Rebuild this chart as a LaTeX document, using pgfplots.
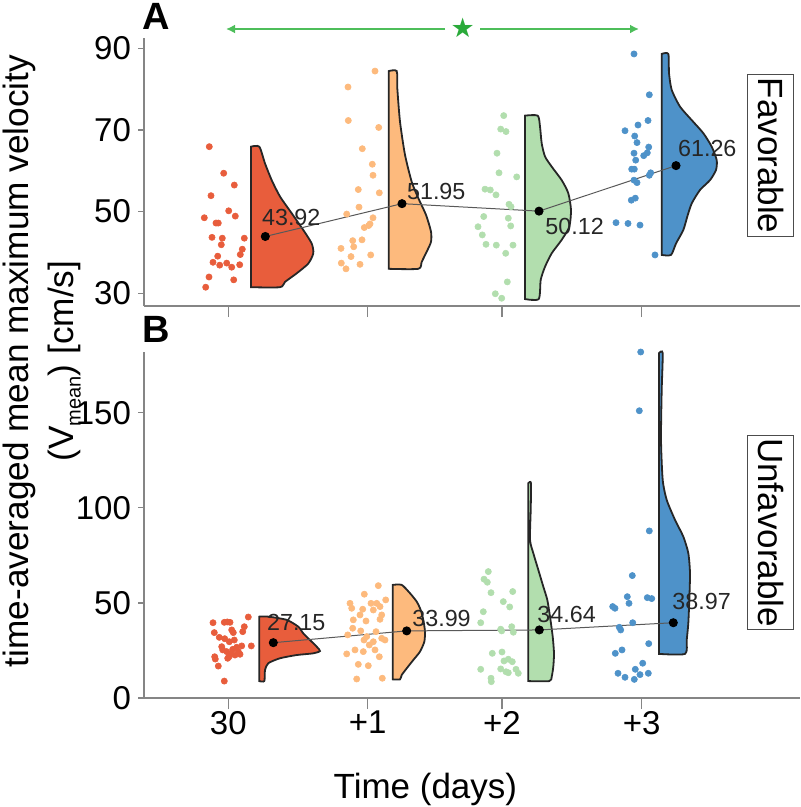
\documentclass[border=0pt]{standalone}
\usepackage{fontspec}
\setmainfont{Liberation Sans}
\newfontfamily\symfont{DejaVu Sans}
\usepackage{pgfplots}
\pgfplotsset{compat=1.18}
\usetikzlibrary{arrows.meta}

\definecolor{cRed}{HTML}{E85D3C}
\definecolor{cOrange}{HTML}{FDBA7D}
\definecolor{cGreen}{HTML}{B2DEAE}
\definecolor{cBlue}{HTML}{4E92C9}
\definecolor{axgray}{HTML}{858585}
\definecolor{arrowgreen}{HTML}{4DBE5A}
\definecolor{stargreen}{HTML}{2AAA3A}

% x runs in picture pixels (144 .. 800), y in cm/s
\pgfplotsset{
  panel/.style={
    scale only axis, width=328pt, xmin=144, xmax=800,
    axis lines*=left, tick align=outside,
    axis line style={draw=axgray, line width=0.6pt},
    tick style={draw=axgray, line width=0.6pt},
    major tick length=3pt,
    x tick style={/pgfplots/major tick length=5.5pt},
    xtick={228.3,367.7,502,641.7},
    ticklabel style={font=\fontsize{16.5}{18}\selectfont},
    /pgf/number format/assume math mode=true,
    clip=false,
  },
  pts/.style={only marks, mark=*, mark size=1.55pt, color=#1,
    mark options={draw=#1, fill=#1, line width=0.3pt, line join=round}},
  vio/.style={fill=#1, draw=black!85, line width=0.9pt, smooth, tension=0.4, mark=none},
  meanline/.style={draw=black!65, line width=0.5pt, mark=*, mark size=2pt,
    mark options={fill=black, draw=black}},
}
\tikzset{vlab/.style={font=\fontsize{11.65}{13}\selectfont, inner sep=0pt, anchor=base west, text=black!85}}

\begin{document}
\begin{tikzpicture}
\path[use as bounding box] (0,0) rectangle (400pt,-403.5pt);

% ---------- panel A: favorable ----------
\begin{axis}[panel, at={(72pt,-153pt)}, anchor=south west, height=134pt,
  ymin=26.9, ymax=92.5, ytick={30,50,70,90}, xticklabels={}]

\addplot[pts=cRed] coordinates {
  (209.3,65.9) (223.7,59.4) (234.3,56.5) (211,53.9) (228.7,50.2) (235.3,48.9)
  (204.3,48.5) (216,47.2) (218.3,47.2) (212,43.7) (222.3,43.5) (244.3,43.5)
  (221.3,41.9) (242.3,40.8) (240.3,39.5) (217.7,39.1) (213,37.6) (219.7,36.9)
  (226.7,37.4) (231.7,36.4) (239.7,37.0) (209,34.0) (233.7,33.3) (205.7,31.5)};
\addplot[pts=cOrange] coordinates {
  (375,84.4) (348,80.5) (348.3,72.3) (378.7,70.6) (362.3,65.4) (372.3,61.6)
  (373,58.9) (358.3,55.4) (379.3,54.6) (359,51.1) (346.7,49.4) (373,48.5)
  (370,47.0) (368.7,46.6) (364.3,46.1) (362,43.1) (352.7,42.9) (353.7,41.4)
  (341,41.0) (370.7,39.4) (351,39.0) (341.3,37.4) (360,37.1) (346,36.0)};
\addplot[pts=cGreen] coordinates {
  (503.7,73.5) (500.7,70.2) (506,69.6) (497,64.3) (499,59.5) (516.7,58.5)
  (485,55.5) (490.3,55.3) (496,54.1) (509,51.8) (511,51.2) (483.7,48.8)
  (508.3,48.4) (478,46.3) (510.7,46.5) (482.3,44.3) (486,42.0) (496.3,41.8)
  (513,41.8) (505.7,39.8) (507.3,32.8) (495.3,29.9) (501.7,28.8)};
\addplot[pts=cBlue] coordinates {
  (634,88.6) (649.3,78.6) (648,72.3) (638,71.2) (625,69.8) (634.7,68.5)
  (637,66.9) (648.7,65.8) (647.3,64.4) (634,64.3) (643.7,63.7) (635.7,62.6)
  (631.7,60.4) (634.3,60.4) (650.7,59.5) (634,57.7) (637,57.1) (649.3,58.9)
  (635.3,53.3) (631.3,52.8) (616,47.3) (628,47.1) (640,46.7) (655,39.4)};

\addplot[vio=cRed] coordinates {
  (251,65.9) (259.3,65.9) (265,61.8) (271.7,57.7) (280,53.7) (291.7,49.6)
  (303.3,45.5) (311.7,42.2) (313.3,39.8) (308.3,37.3) (296.7,34.9) (285,32.8)
  (280,31.5) (251,31.5)} -- cycle;
\addplot[vio=cOrange] coordinates {
  (388.7,84.4) (396.7,84.4) (397.3,80.2) (400,72.0) (405,63.9) (411.7,57.3)
  (418.3,53.3) (426,49.2) (431,45.1) (431,42.6) (426.7,40.2) (421.7,37.7)
  (418.3,36.0) (388.7,36.0)} -- cycle;
\addplot[vio=cGreen] coordinates {
  (525,73.5) (537.7,73.5) (540,70.8) (541.7,66.7) (545,63.5) (551.7,61.0)
  (561.7,57.7) (568.3,54.5) (571,50.4) (569.3,46.3) (561.7,43.1) (551.7,39.8)
  (545,36.5) (540.7,33.3) (538.7,28.6) (525,28.6)} -- cycle;
\addplot[vio=cBlue] coordinates {
  (661.7,88.6) (668.3,88.6) (669,83.9) (671.7,79.8) (680,75.7) (691.7,72.4)
  (703.3,69.2) (711.7,65.9) (716.7,62.6) (716,60.2) (710,57.7) (700,55.3)
  (691.7,52.0) (687.3,48.8) (683.3,45.5) (676,42.2) (671,39.4) (661.7,39.4)} -- cycle;

\addplot[meanline] coordinates {(265.3,43.92) (402,51.95) (539,50.12) (676,61.26)};
\node[vlab] at (axis cs:261.7,46.5) {43.92};
\node[vlab] at (axis cs:406.7,52.85) {51.95};
\node[vlab] at (axis cs:545,44.3) {50.12};
\node[vlab] at (axis cs:677.7,63.5) {61.26};

% significance bracket
\addplot[draw=arrowgreen, line width=0.9pt, mark=none, -{Latex[length=4.5pt,width=4.5pt]}]
  coordinates {(445,94.7) (226,94.7)};
\addplot[draw=arrowgreen, line width=0.9pt, mark=none, -{Latex[length=4.5pt,width=4.5pt]}]
  coordinates {(480,94.7) (639,94.7)};
\addplot[only marks, mark=text, text mark={\symfont ★}, text mark as node=true,
  text mark style={font=\fontsize{13.5}{13.5}\selectfont, text=stargreen, inner sep=0pt}]
  coordinates {(462.7,95.0)};
\end{axis}

% ---------- panel B: unfavorable ----------
\begin{axis}[panel, at={(72pt,-349pt)}, anchor=south west, height=173pt,
  ymin=0, ymax=182, ytick={0,50,100,150}, xticklabels={30,+1,+2,+3}]

\addplot[pts=cRed] coordinates {
  (213,39.6) (224.3,39.8) (227.3,40.0) (230,39.8) (248.3,42.6) (244.3,37.5)
  (242.7,34.9) (231.7,35.8) (233.3,34.4) (214.3,34.4) (219.3,31.9) (224.7,31.2)
  (229.3,29.6) (234.3,30.5) (251.3,27.4) (221.7,27.0) (222.7,25.3) (226.7,24.4)
  (232.7,25.6) (236.7,26.7) (241.7,27.4) (240,23.0) (229,21.7) (235,22.6)
  (214.7,21.7) (215.3,20.5) (227.7,20.9) (218.3,16.8) (224.3,8.9) (230.7,23.2)
  (238.3,24.4)};
\addplot[pts=cOrange] coordinates {
  (378.3,59.1) (364.3,54.6) (350,49.8) (351.7,47.2) (371,49.8) (376.7,49.8)
  (385.7,51.6) (362.7,46.7) (373.3,46.3) (380,48.1) (381.7,43.7) (360,43.7)
  (353.3,41.1) (366,40.5) (380,41.4) (376,34.9) (360.7,35.3) (352.7,36.7)
  (347.7,33.2) (366.7,32.3) (369.3,27.9) (381.7,31.4) (385,30.5) (364,30.5)
  (373.3,29.6) (355,25.3) (363.3,24.4) (375,25.3) (379.3,21.7) (346.7,23.2)
  (358.3,17.7) (368.3,17.0) (356.7,10.0) (382.3,10.4)};
\addplot[pts=cGreen] coordinates {
  (488.3,66.5) (484,62.5) (487.3,60.9) (491,55.4) (512.7,56.0) (503.3,50.7)
  (509.7,47.9) (483.3,45.4) (480.7,39.6) (511.7,37.5) (500.7,36.2) (501.7,35.3)
  (513.3,34.6) (492.3,23.5) (502,24.2) (508.3,20.4) (504,19.5) (512.3,19.1)
  (480.7,15.1) (500.7,15.3) (506,13.8) (508.3,13.3) (516,15.1) (518.3,13.0)
  (491,10.4) (491.3,8.6)};
\addplot[pts=cBlue] coordinates {
  (640.7,182) (639.3,151.1) (649.3,87.9) (632.3,64.4) (627.3,53.3) (629,49.8)
  (647.3,52.8) (651.7,52.3) (612.7,48.1) (615,47.2) (632.7,39.6) (619.3,37.2)
  (620.7,35.8) (648.7,28.6) (622,25.3) (615.3,23.5) (642.7,18.3) (635.3,15.1)
  (618,13.0) (640,12.3) (648.3,13.0) (625,10.9) (634.3,9.8)};

\addplot[vio=cRed] coordinates {
  (259.3,42.8) (268.3,42.8) (286.7,41.1) (298.3,37.5) (303.3,34.0) (310,30.5)
  (316.7,27.0) (320,24.7) (313.3,23.5) (296.7,22.6) (280,20.9) (268.3,18.3)
  (265,14.7) (264.3,8.9) (259.3,8.9)} -- cycle;
\addplot[vio=cOrange] coordinates {
  (392.7,59.5) (401.7,59.5) (410,55.1) (416.7,50.7) (420.7,46.3) (423.3,41.1)
  (425,34.9) (424.3,29.6) (420,24.4) (413.3,20.0) (406.7,15.6) (401.7,12.1)
  (400,9.8) (392.7,9.8)} -- cycle;
\addplot[vio=cGreen] coordinates {
  (528.3,113.0) (531,113.0) (530.7,98.9) (530,83.2) (533.3,76.2) (538.3,67.4)
  (543.3,58.6) (547.3,51.6) (550,42.8) (552.7,32.3) (554,23.5) (553.3,16.5)
  (551.7,11.2) (549.3,8.9) (528.3,8.9)} -- cycle;
\addplot[vio=cBlue] coordinates {
  (659,181.4) (662.7,181.4) (661.7,162.1) (661,135.8) (662.7,114.7) (666.7,104.2)
  (675,93.7) (683.3,84.9) (688.3,76.2) (690,65.6) (689.3,51.6) (688.3,39.3)
  (686.7,30.5) (685,23.2) (659,23.2)} -- cycle;

\addplot[meanline] coordinates {(273.3,29.1) (406.7,35.3) (539.3,35.8) (673.3,39.6)};
\node[vlab] at (axis cs:266.7,35.4) {27.15};
\node[vlab] at (axis cs:412,37.4) {33.99};
\node[vlab] at (axis cs:537,39.5) {34.64};
\node[vlab] at (axis cs:672,46.3) {38.97};
\end{axis}

% panel letters, facet boxes and shared labels
\node[anchor=base west, inner sep=0pt, font=\fontsize{19}{19}\selectfont\bfseries] at (70.85pt,-15pt) {A};
\node[anchor=base west, inner sep=0pt, font=\fontsize{19}{19}\selectfont\bfseries] at (70.85pt,-171.5pt) {B};
\node[draw=black!70, line width=0.5pt, rotate=-90, inner xsep=1.5pt, inner ysep=5pt,
  font=\fontsize{17.5}{18}\selectfont] at (385.4pt,-77.75pt) {Favorable};
\node[draw=black!70, line width=0.5pt, rotate=-90, inner xsep=1.5pt, inner ysep=5pt,
  font=\fontsize{17.5}{18}\selectfont] at (385.4pt,-266.25pt) {Unfavorable};
\node[rotate=90, anchor=base, inner sep=0pt, font=\fontsize{17.6}{20}\selectfont] at (14.15pt,-180.5pt)
  {time-averaged mean maximum velocity};
\node[rotate=90, anchor=base, inner sep=0pt, font=\fontsize{17.6}{20}\selectfont] at (36.5pt,-180.5pt)
  {(V\raisebox{-0.22em}{\fontsize{10}{10}\selectfont mean}) [cm/s]};
\node[anchor=base west, inner sep=0pt, font=\fontsize{17.5}{18}\selectfont] at (166.65pt,-399pt) {Time (days)};
\end{tikzpicture}
\end{document}
